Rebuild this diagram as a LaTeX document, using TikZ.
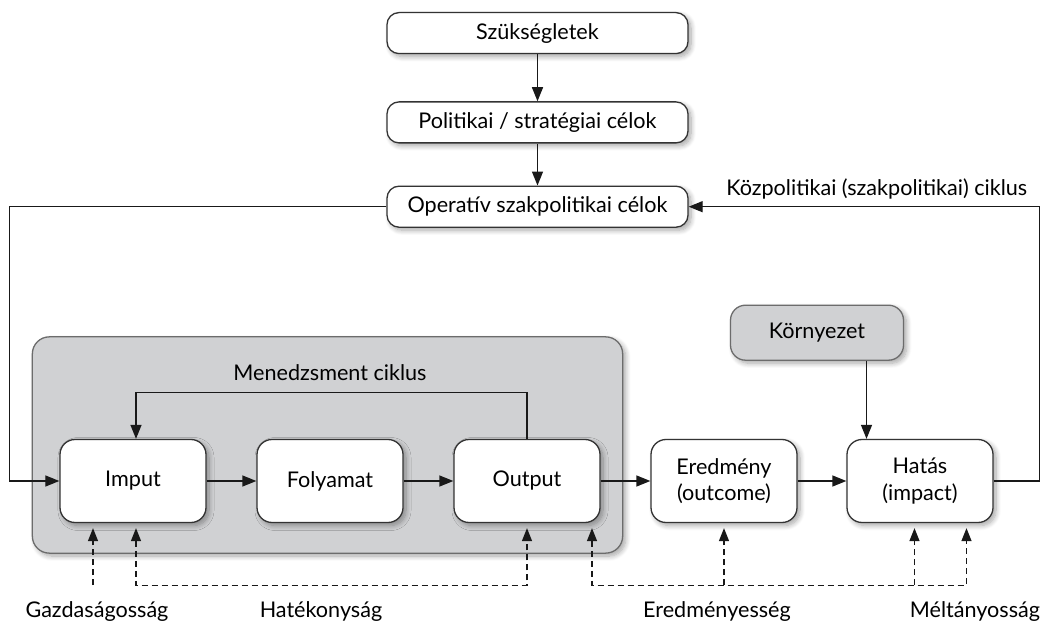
\documentclass[tikz,border=0pt]{standalone}
\usepackage{fontspec}
\setmainfont{Lato}
\usetikzlibrary{arrows.meta,positioning,fit,backgrounds,calc,shadows.blur}
\definecolor{panelgray}{HTML}{D0D1D3}
\definecolor{edgegray}{HTML}{6C6C6C}
\tikzset{
  txt/.style   ={font=\fontsize{10.8pt}{13.3pt}\selectfont, text=black},
  shd/.style   ={blur shadow={shadow xshift=1.5pt, shadow yshift=-1.5pt,
                 shadow blur radius=2.5pt, shadow blur steps=8, shadow opacity=35}},
  cel/.style   ={txt, shd, rectangle, rounded corners=6pt, draw=black!80, fill=white,
                 line width=0.65pt, minimum height=20.5pt, minimum width=150.5pt, align=center},
  elem/.style  ={txt, shd, rectangle, rounded corners=7.5pt, draw=black!80, fill=white,
                 line width=0.65pt, minimum height=41.5pt, minimum width=73pt, align=center},
  env/.style   ={txt, shd, rectangle, rounded corners=7.5pt, draw=edgegray, fill=panelgray,
                 line width=0.65pt, minimum height=27.5pt, minimum width=86.5pt, align=center},
  panel/.style ={shd, rectangle, rounded corners=8.5pt, draw=edgegray, fill=panelgray,
                 line width=0.65pt, inner sep=0pt},
  lbl/.style   ={txt, inner sep=1pt},
  ar/.style    ={-{Triangle[length=7pt,width=5.5pt]}, line width=0.65pt, draw=black!90},
  dar/.style   ={-{Triangle[length=6.5pt,width=5pt]}, line width=0.65pt, draw=black!90,
                 dash pattern=on 3pt off 2pt, shorten >=2.5pt},
  dar2/.style  ={{Triangle[length=6.5pt,width=5pt]}-{Triangle[length=6.5pt,width=5pt]},
                 line width=0.65pt, draw=black!90, dash pattern=on 3pt off 2pt,
                 shorten >=2.5pt, shorten <=2.5pt},
}

\begin{document}
\begin{tikzpicture}[node distance=24.85pt]
\useasboundingbox (-66.5pt,-70pt) rectangle (455pt,240.5pt);

\node[elem] (imput) at (0,0) {Imput};
\node[elem, right=of imput] (folyamat) {Folyamat};
\node[elem, right=of folyamat] (output) {Output};
\node[elem, right=of output] (eredmeny) {Eredmény\\(outcome)};
\node[elem, right=24.35pt of eredmeny] (hatas) {Hatás\\(impact)};
\node[env, above=39pt of hatas, xshift=-51.5pt] (korny) {Környezet};

\node[cel, above=105.5pt of output, xshift=5.25pt] (op) {Operatív szakpolitikai célok};
\node[cel, above=21pt of op] (pol) {Politikai / stratégiai célok};
\node[cel, above=23.5pt of pol] (szuk) {Szükségletek};

% menedzsment panel
\coordinate (pnw) at ($(imput.north west)+(-13.5pt,51pt)$);
\coordinate (pse) at ($(output.south east)+(11pt,-15pt)$);
\begin{scope}[on background layer]
\node[panel, fit=(pnw)(pse)] (menedzsment) {};
\end{scope}
\node[lbl] (menlbl) at ($(menedzsment.north)+(1.25pt,-18pt)$) {Menedzsment ciklus};

\draw[ar] (szuk) -- (pol); \draw[ar] (pol) -- (op);
\draw[ar] (imput) -- (folyamat); \draw[ar] (folyamat) -- (output);
\draw[ar] (output) -- (eredmeny); \draw[ar] (eredmeny) -- (hatas);
\draw[ar] (output.north) -- ++(0,23pt) -| ([xshift=1.5pt]imput.north);
\draw[ar] ([xshift=24.75pt]korny.south) -- ([xshift=24.75pt]korny.south |- hatas.north);

% kozpolitikai ciklus
\coordinate[left=25pt of imput] (lc);
\coordinate[right=23pt of hatas] (rc);
\coordinate (rt) at (rc |- op.east);
\draw[ar] (op.west) -| (lc) -- (imput.west);
\draw[ar] (hatas.east) -- (rc) -- (rt) -- (op.east);
\node[lbl, anchor=base east] (kozpol) at ([shift={(-5pt,5.5pt)}]rt) {Közpolitikai (szakpolitikai) ciklus};

% mutatok
\coordinate[below=31pt of imput] (hb);
\draw[dar] ([xshift=-20pt]imput.south |- hb) -- ([xshift=-20pt]imput.south);
\draw[dar2] ([xshift=1.5pt]imput.south) -- ([xshift=1.5pt]imput.south |- hb) -| (output.south);
\draw[dar2] ([xshift=32.5pt]output.south) -- ([xshift=32.5pt]output.south |- hb) -| ([xshift=23.25pt]hatas.south);
\draw[dar] (eredmeny.south |- hb) -- (eredmeny.south);
\draw[dar] ([xshift=-2.75pt]hatas.south |- hb) -- ([xshift=-2.75pt]hatas.south);

\node[lbl] (gazd) at ([shift={(-18pt,-13pt)}]imput.south |- hb) {Gazdaságosság};
\node[lbl] (hatek) at ([shift={(-4.5pt,-13pt)}]folyamat.south |- hb) {Hatékonyság};
\node[lbl] (ered) at ([shift={(-3.5pt,-13pt)}]eredmeny.south |- hb) {Eredményesség};
\node[lbl] (melt) at ([shift={(27.5pt,-13pt)}]hatas.south |- hb) {Méltányosság};
\end{tikzpicture}
\end{document}
